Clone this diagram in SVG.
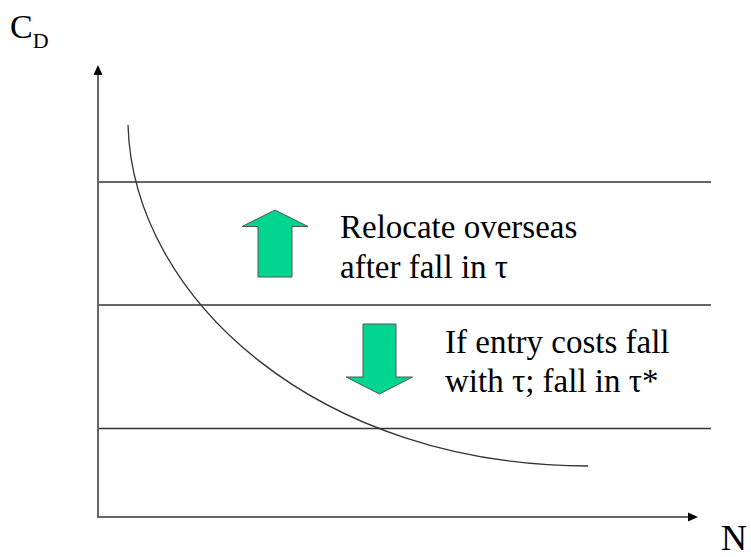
<svg xmlns="http://www.w3.org/2000/svg" width="751" height="557" viewBox="0 0 751 557">
<defs>
<style>
.axis{stroke:#666;stroke-width:2;fill:none;}
.hline{stroke:#333;stroke-width:1.3;fill:none;}
.curve{stroke:#333;stroke-width:1.3;fill:none;}
.arrowshape{fill:#00D690;stroke:#555;stroke-width:1;}
</style>
</defs>
<rect width="751" height="557" fill="#fff"/>
<g id="axes">
<line class="axis" x1="98" y1="517" x2="98" y2="74"/>
<polygon points="98,65 93.5,75 102.5,75" fill="#000"/>
<line class="axis" x1="97" y1="517" x2="689" y2="517"/>
<polygon points="698,517 688,512.5 688,521.5" fill="#000"/>
<text font-family="Liberation Serif, DejaVu Serif, serif" x="10" y="38" font-size="34" fill="#000">C<tspan font-size="22" dy="10">D</tspan></text>
<text font-family="Liberation Serif, DejaVu Serif, serif" x="721" y="550" font-size="36" fill="#000">N</text>
</g>
<g id="connectors">
<line class="hline" x1="99" y1="182" x2="711" y2="182"/>
<line class="hline" x1="99" y1="305" x2="711" y2="305"/>
<line class="hline" x1="99" y1="428.5" x2="711" y2="428.5"/>
<path class="curve" d="M128,125 C133,300 320,466 588,466"/>
</g>
<g id="up-arrow">
<polygon class="arrowshape" points="275,210 308,226.5 292,226.5 292,277 258,277 258,226.5 242,226.5"/>
</g>
<g id="down-arrow">
<polygon class="arrowshape" points="363,324 396,324 396,377 412.5,377 379.5,394 346,377 363,377"/>
</g>
<g id="label-relocate">
<text font-family="Liberation Serif, DejaVu Serif, serif" x="340" y="238" font-size="33" fill="#000">Relocate overseas</text>
<text font-family="Liberation Serif, DejaVu Serif, serif" x="340" y="278" font-size="33" fill="#000">after fall in τ</text>
</g>
<g id="label-entry">
<text font-family="Liberation Serif, DejaVu Serif, serif" x="445" y="353" font-size="33" fill="#000">If entry costs fall</text>
<text font-family="Liberation Serif, DejaVu Serif, serif" x="445" y="391.5" font-size="33" fill="#000">with τ; fall in τ*</text>
</g>
</svg>
